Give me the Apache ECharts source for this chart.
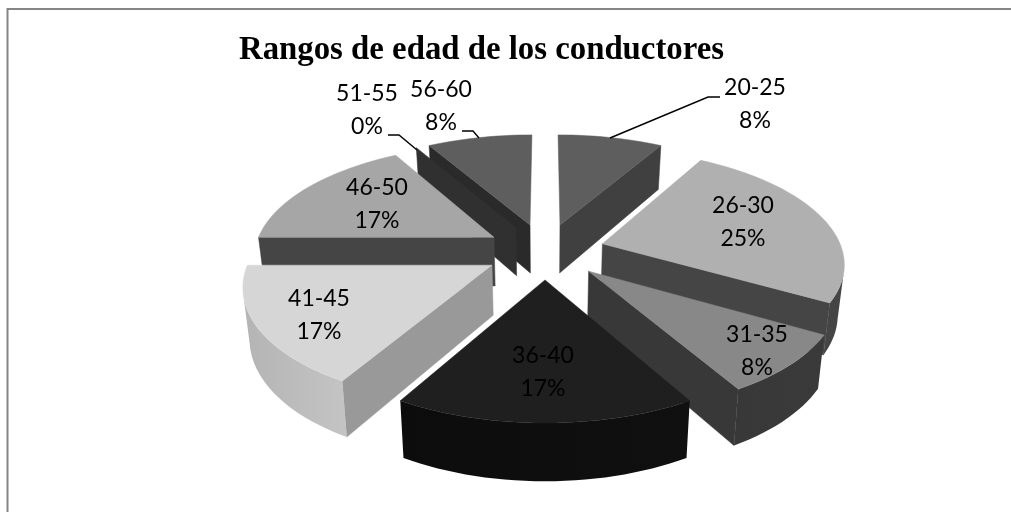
<!DOCTYPE html>
<html>
<head>
<meta charset="utf-8">
<style>html,body{margin:0;padding:0;background:#fff}#c{width:1011px;height:512px}</style>
<script src="https://cdn.jsdelivr.net/npm/echarts@6/dist/echarts.min.js"></script>
</head>
<body>
<div id="c"></div>
<script>
// ---- data ----
const titleText = 'Rangos de edad de los conductores';
const categories = ['20-25','26-30','31-35','36-40','41-45','46-50','51-55','56-60'];
const counts = [1,3,1,2,2,2,0,1];

// ---- styles: top face, radial wall, outer wall gradient (left, right) ----
const topColors   = ['#5e5e5e','#b0b0b0','#888888','#1f1f1f','#d6d6d6','#a6a6a6','#303030','#5e5e5e'];
const wallColors  = ['#404040','#454545','#383838','#101010','#999999','#454545','#303030','#2a2a2a'];
const outerLeft   = ['#404040','#454545','#383838','#0c0c0c','#b4b4b4','#454545','#303030','#2a2a2a'];
const outerRight  = ['#404040','#454545','#3a3a3a','#101010','#c4c4c4','#454545','#303030','#2a2a2a'];
const labelColor  = '#000000';

// ---- label layout (pixels of the page) ----
const labelX   = [755,743,757,543,319,377,367,441];
const labelY   = [104,222,351,372,315,204,110,106];
const leaders  = {
  0: [[610,138],[708,97],[720,97]],
  6: [[388,135],[399,135],[417,150]],
  7: [[462,131],[473,131],[479,138]]
};

// ---- 3D projection of the pie ----
const total = counts.reduce((a,b)=>a+b,0);
const cx = 545, persp = 0.153, explode = 0.25;
const topA = 240, topB = 111.3, topCy = 251;
const botA = 240*0.978, botB = 117.1, botCy = 300.3;
const wallFrom = 103, wallTo = 257; // where the rim turns away from the viewer
function proj(X,Y,bottom){
  const w = 1 - persp*Y;
  return bottom ? [cx + botA*X/w, botCy + botB*Y/w] : [cx + topA*X/w, topCy + topB*Y/w];
}
const rad = d => d*Math.PI/180;
function ground(ox,oy,deg){ return [ox+Math.sin(rad(deg)), oy-Math.cos(rad(deg))]; }

// angular extents from the values, clockwise from 12 o'clock
let acc = 0;
const slices = counts.map((v,i)=>{
  const a = acc/total*360; acc += v; const b = acc/total*360;
  const m = (a+b)/2;
  return {i,a,b,ox:explode*Math.sin(rad(m)),oy:-explode*Math.cos(rad(m))};
});
const order = slices.slice().sort((p,q)=>p.oy-q.oy).map(s=>s.i);

function arcPts(s,from,to,bottom){
  const n = Math.max(2,Math.ceil(Math.abs(to-from)/2)), pts=[];
  for(let k=0;k<=n;k++){
    const g = ground(s.ox,s.oy,from+(to-from)*k/n);
    pts.push(proj(g[0],g[1],bottom));
  }
  return pts;
}
function poly(points,fill,z2){
  return {type:'polygon',shape:{points},style:{fill,stroke:fill,lineWidth:0.5},z2,silent:true};
}
function radialWall(s,deg,fill,z2){
  const g = ground(s.ox,s.oy,deg);
  return poly([proj(s.ox,s.oy,false),proj(g[0],g[1],false),proj(g[0],g[1],true),proj(s.ox,s.oy,true)],fill,z2);
}

function renderSlice(params){
  const s = slices[params.dataIndex];
  const rank = order.indexOf(s.i)*10+1;
  const kids = [];
  const startSeen = Math.sin(rad(s.a)) < -1e-6;
  const endSeen = Math.sin(rad(s.b)) > 1e-6;
  if(startSeen) kids.push(radialWall(s,s.a,wallColors[s.i],rank));
  if(endSeen && s.b>s.a) kids.push(radialWall(s,s.b,wallColors[s.i],rank));
  const oa = Math.max(s.a,wallFrom), ob = Math.min(s.b,wallTo);
  if(ob>oa){
    const top = arcPts(s,oa,ob,false), bot = arcPts(s,oa,ob,true);
    kids.push({type:'polygon',shape:{points:top.concat(bot.reverse())},z2:rank+1,silent:true,
      style:{fill:new echarts.graphic.LinearGradient(0,0,1,0,[
        {offset:0,color:outerLeft[s.i]},{offset:1,color:outerRight[s.i]}]),lineWidth:0}});
  }
  if(s.b>s.a){
    const pts = [proj(s.ox,s.oy,false)].concat(arcPts(s,s.a,s.b,false));
    kids.push(poly(pts,topColors[s.i],rank+2));
  }
  const val = counts[s.i];
  kids.push({type:'text',z2:200,silent:true,style:{
    x:labelX[s.i],y:labelY[s.i],
    text:categories[s.i]+'\n'+Math.round(val/total*100)+'%',
    fill:labelColor,font:'400 23px Lato, "Open Sans", sans-serif',
    lineHeight:33,align:'center',verticalAlign:'middle'}});
  if(leaders[s.i]) kids.push({type:'polyline',z2:199,silent:true,shape:{points:leaders[s.i]},
    style:{stroke:'#000',lineWidth:1.4,fill:null}});
  return {type:'group',children:kids};
}

const chart = echarts.init(document.getElementById('c'),null,{renderer:'canvas'});
chart.setOption({
  animation:false,
  backgroundColor:'#ffffff',
  title:{text:titleText,left:239,top:34,padding:0,
    textStyle:{fontFamily:'"Liberation Serif",serif',fontWeight:'bold',fontSize:32.8,color:'#000'}},
  graphic:[{type:'polyline',silent:true,shape:{points:[[7.5,512],[7.5,9],[1011,9]]},
    style:{stroke:'#858585',lineWidth:2,fill:null}}],
  series:[{
    type:'custom',coordinateSystem:'none',
    data:counts.map((v,i)=>({name:categories[i],value:v})),
    renderItem:renderSlice
  }]
});
</script>
</body>
</html>
